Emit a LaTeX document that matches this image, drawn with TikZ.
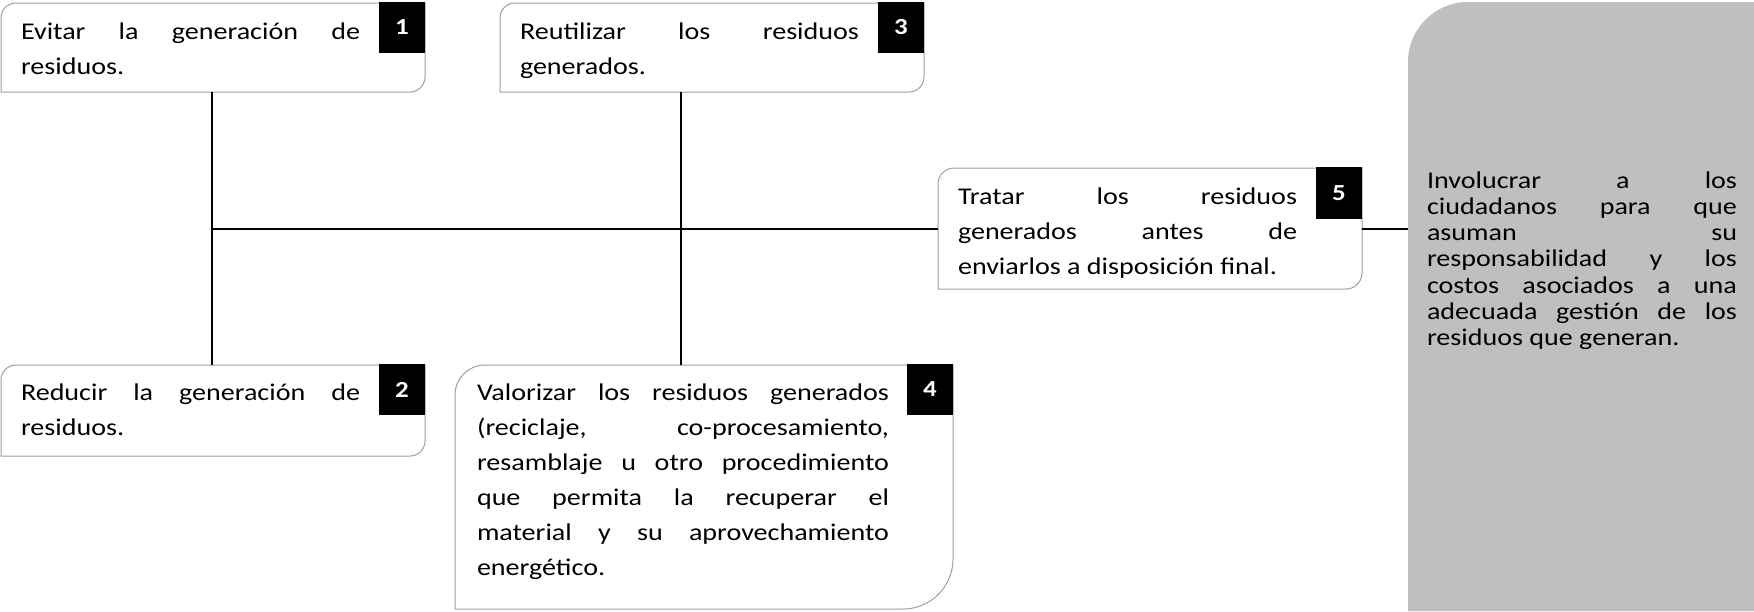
\documentclass[tikz,border=0pt]{standalone}
\usepackage{fontspec}
\setmainfont{Carlito}[FakeStretch=1.17]
\newlength{\jw}
\newcommand{\jl}[1]{\hbox to \jw{\strut#1}}
\newcommand{\lastl}[1]{\hbox to \jw{\strut#1\hss}}
\newcommand{\gap}{\hfill}
\tikzset{
  area/.style={draw=none, inner sep=0pt, outer sep=0pt, anchor=north west},
  outline/.style={draw=black!38, line width=0.5pt},
  tag/.style={fill=black, text=white, inner sep=0pt, outer sep=0pt, anchor=north east,
    minimum width=23pt, minimum height=25.5pt, font=\fontsize{11.5}{13}\selectfont\bfseries},
  boxtext/.style={inner sep=0pt, outer sep=0pt, anchor=north west,
    font=\fontsize{12}{17.5}\selectfont},
  paneltext/.style={inner sep=0pt, outer sep=0pt, anchor=north west,
    font=\fontsize{12}{13.1}\selectfont},
  conn/.style={draw=black, line width=1.25pt},
}
\begin{document}
\begin{tikzpicture}[x=0.5pt,y=-0.5pt]
\useasboundingbox (0,0) rectangle (1754,611);
% panel
\node[area, minimum width=173pt, minimum height=304.5pt] (panel) at (1408,2) {};
\fill[black!25] ([xshift=30pt]panel.north west) -- (panel.north east) -- (panel.south east)
  -- (panel.south west) -- ([yshift=-30pt]panel.north west)
  arc[start angle=180, end angle=90, radius=30pt] -- cycle;
\setlength{\jw}{155pt}
\node[paneltext] (tp) at (1427,170) {\vbox{%
\jl{Involucrar\gap a\gap los}\jl{ciudadanos\gap para\gap que}\jl{asuman\gap su}\jl{responsabilidad\gap y\gap los}%
\jl{costos\gap asociados\gap a\gap una}\jl{adecuada\gap gestión\gap de\gap los}\lastl{residuos que generan.}}};
% boxes
\node[area, minimum width=212pt, minimum height=44.5pt] (b1) at (1,3) {};
\node[area, minimum width=212pt, minimum height=45.5pt] (b2) at (1,365) {};
\node[area, minimum width=212pt, minimum height=44.5pt] (b3) at (500,3) {};
\node[area, minimum width=249pt, minimum height=122pt] (b4) at (455,365) {};
\node[area, minimum width=212pt, minimum height=60.5pt] (b5) at (938,168) {};
\foreach \b/\ra/\rb in {b1/7.5pt/7.5pt, b2/7.5pt/7.5pt, b3/7.5pt/7.5pt, b4/15pt/25pt, b5/8pt/8pt}{
  \draw[outline] ([xshift=\ra]\b.north west) -- (\b.north east) -- ([yshift=\rb]\b.south east)
    arc[start angle=0, end angle=-90, radius=\rb] -- (\b.south west)
    -- ([yshift=-\ra]\b.north west) arc[start angle=180, end angle=90, radius=\ra] -- cycle;
}
% tags
\node[tag] (g1) at ([yshift=0.5pt]b1.north east) {1};
\node[tag] (g2) at ([yshift=0.5pt]b2.north east) {2};
\node[tag] (g3) at ([yshift=0.5pt]b3.north east) {3};
\node[tag] (g4) at ([yshift=0.5pt]b4.north east) {4};
\node[tag, minimum height=26pt] (g5) at ([yshift=0.5pt]b5.north east) {5};
% texts
\setlength{\jw}{169.5pt}
\node[boxtext] (t1) at (21,14.5) {\vbox{\jl{Evitar\gap la\gap generación\gap de}\lastl{residuos.}}};
\node[boxtext] (t2) at (21,375.5) {\vbox{\jl{Reducir\gap la\gap generación\gap de}\lastl{residuos.}}};
\node[boxtext] (t3) at (520,14.5) {\vbox{\jl{Reutilizar\gap los\gap residuos}\lastl{generados.}}};
\node[boxtext] (t5) at (958,179.5) {\vbox{%
\jl{Tratar\gap los\gap residuos}\jl{generados\gap antes\gap de}\lastl{enviarlos a disposición final.}}};
\setlength{\jw}{206pt}
\node[boxtext] (t4) at (477,375.5) {\vbox{%
\jl{Valorizar\gap los\gap residuos\gap generados}\jl{(reciclaje,\gap co-procesamiento,}%
\jl{resamblaje\gap u\gap otro\gap procedimiento}\jl{que\gap permita\gap la\gap recuperar\gap el}%
\jl{material\gap y\gap su\gap aprovechamiento}\lastl{energético.}}};
% connectors
\coordinate (j1) at (212,229);
\coordinate (j2) at (681,229);
\draw[conn] (b1.south -| j1) -- (b2.north -| j1);
\draw[conn] (b3.south -| j2) -- (b4.north -| j2);
\draw[conn] (j1) -- (b5.west |- j1);
\draw[conn] (b5.east |- j1) -- (panel.west |- j1);
\end{tikzpicture}
\end{document}
